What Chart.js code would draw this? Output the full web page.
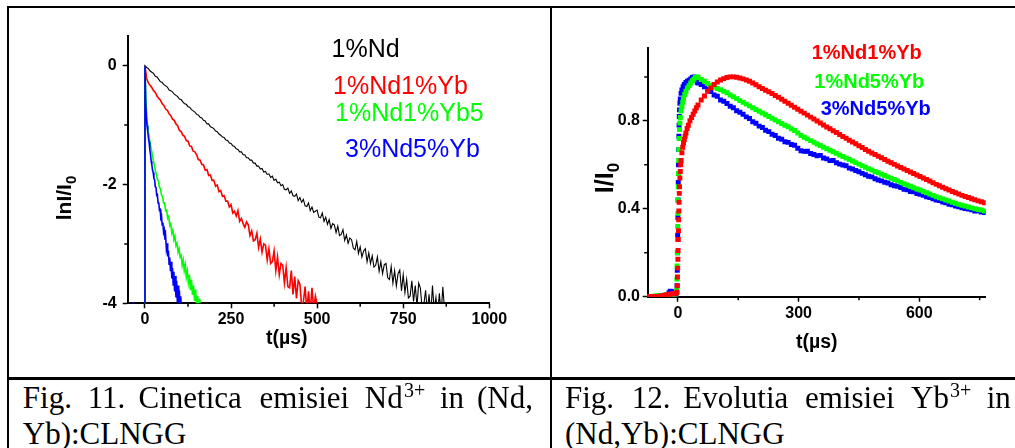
<!DOCTYPE html>
<html>
<head>
<meta charset="utf-8">
<script src="https://cdn.jsdelivr.net/npm/chart.js@4.4.1/dist/chart.umd.min.js"></script>
<style>
  html, body { margin: 0; padding: 0; background: #fff; }
  #page { position: relative; width: 1015px; height: 448px; overflow: hidden; background: #fff; }
  canvas { position: absolute; }
  .rule { position: absolute; background: #000; }
  .t { position: absolute; white-space: nowrap; line-height: 1; }
  .sans { font-family: 'Liberation Sans', Arial, sans-serif; }
  .cap { font-family: 'Liberation Serif', 'Times New Roman', serif; font-size: 31px; color: #000; }
  .sup { font-family: 'Liberation Serif', 'Times New Roman', serif; font-size: 20px; color: #000; }
  .ytitle { position: absolute; transform: rotate(-90deg); transform-origin: center center;
            font-family: 'Liberation Sans', Arial, sans-serif; font-weight: bold;
            white-space: nowrap; text-align: center; color: #000; }
</style>
</head>
<body>
<div id="page">
  <canvas id="ndDecay" width="549" height="376" style="left:0;top:0"></canvas>
  <canvas id="ybRise" width="464" height="376" style="left:551px;top:0"></canvas>

  <!-- table rules -->
  <div class="rule" style="left:6.5px;top:5.5px;width:1010px;height:2.5px"></div>
  <div class="rule" style="left:6.5px;top:5.5px;width:2.5px;height:445px"></div>
  <div class="rule" style="left:549.5px;top:5.5px;width:2.5px;height:445px"></div>
  <div class="rule" style="left:6.5px;top:377px;width:1010px;height:2.5px"></div>

  <!-- Fig. 11 series names -->
  <div class="t sans" style="left:331.5px;top:36px;font-size:25px;color:#000">1%Nd</div>
  <div class="t sans" style="left:333px;top:72.8px;font-size:25px;color:#ff0000">1%Nd1%Yb</div>
  <div class="t sans" style="left:335px;top:99.5px;font-size:25px;color:#00ff00">1%Nd1%Yb5</div>
  <div class="t sans" style="left:345px;top:136px;font-size:25px;color:#0000ff">3%Nd5%Yb</div>

  <!-- Fig. 12 series names -->
  <div class="t sans" style="left:811.7px;top:41.9px;font-size:20px;font-weight:bold;color:#ff0000">1%Nd1%Yb</div>
  <div class="t sans" style="left:814.3px;top:71.2px;font-size:20px;font-weight:bold;color:#00ff00">1%Nd5%Yb</div>
  <div class="t sans" style="left:820.7px;top:97.5px;font-size:20px;font-weight:bold;color:#0000ff">3%Nd5%Yb</div>

  <!-- axis titles -->
  <div class="t sans" style="left:266px;top:328px;font-size:19.5px;font-weight:bold">t(&micro;s)</div>
  <div class="t sans" style="left:796px;top:332px;font-size:19.5px;font-weight:bold">t(&micro;s)</div>
  <div class="ytitle" style="left:32px;top:184.5px;width:64px;height:26px;line-height:26px;font-size:21px">lnI/I<span style="font-size:15px;position:relative;top:5px">0</span></div>
  <div class="ytitle" style="left:574px;top:163.3px;width:60px;height:30px;line-height:30px;font-size:25px">I/I<span style="font-size:17px;position:relative;top:6px">0</span></div>

  <!-- captions -->
  <span class="t cap" style="left:22.8px;top:382px">Fig.</span>
  <span class="t cap" style="left:87.7px;top:382px">11.</span>
  <span class="t cap" style="left:138.5px;top:382px">Cinetica</span>
  <span class="t cap" style="left:259.6px;top:382px">emisiei</span>
  <span class="t cap" style="left:364.8px;top:382px">Nd</span>
  <span class="t sup" style="left:404px;top:380px">3+</span>
  <span class="t cap" style="left:440px;top:382px">in</span>
  <span class="t cap" style="left:477px;top:382px">(Nd,</span>
  <span class="t cap" style="left:22.8px;top:418px">Yb):CLNGG</span>

  <span class="t cap" style="left:565px;top:382px">Fig.</span>
  <span class="t cap" style="left:631.7px;top:382px">12.</span>
  <span class="t cap" style="left:683.3px;top:382px">Evolutia</span>
  <span class="t cap" style="left:805px;top:382px">emisiei</span>
  <span class="t cap" style="left:911px;top:382px">Yb</span>
  <span class="t sup" style="left:950px;top:380px">3+</span>
  <span class="t cap" style="left:986.7px;top:382px">in</span>
  <span class="t cap" style="left:565px;top:418px">(Nd,Yb):CLNGG</span>
</div>

<script>
// ---------- Fig. 11: ln(I/I0) decay of the Nd3+ emission ----------
// Each trace is sampled on a regular time grid starting at the pulse (t = 0).
const ndTimeStart = 0;
const nd1Step = 5;        // µs, 1%Nd
const nd1Yb1Step = 5;     // µs, 1%Nd1%Yb
const nd1Yb5Step = 3;     // µs, 1%Nd1%Yb5
const nd3Yb5Step = 2;     // µs, 3%Nd5%Yb
const prePulseLevel = -4.6; // signal below the plotted floor before the pulse

const nd1Values = [
  0, -0.03, -0.05, -0.09, -0.11, -0.13, -0.18, -0.19, -0.23, -0.27,
  -0.28, -0.32, -0.34, -0.36, -0.41, -0.42, -0.44, -0.48, -0.50, -0.52,
  -0.56, -0.57, -0.61, -0.64, -0.65, -0.69, -0.70, -0.74, -0.76, -0.78,
  -0.82, -0.83, -0.87, -0.88, -0.92, -0.93, -0.98, -0.98, -1.03, -1.04,
  -1.06, -1.10, -1.11, -1.15, -1.17, -1.20, -1.21, -1.25, -1.26, -1.30,
  -1.31, -1.35, -1.36, -1.40, -1.41, -1.45, -1.45, -1.50, -1.50, -1.55,
  -1.55, -1.59, -1.59, -1.64, -1.64, -1.69, -1.69, -1.74, -1.73, -1.79,
  -1.78, -1.83, -1.82, -1.88, -1.86, -1.93, -1.91, -1.97, -1.96, -2.02,
  -2.00, -2.08, -2.09, -2.06, -2.15, -2.11, -2.19, -2.20, -2.16, -2.27,
  -2.22, -2.30, -2.25, -2.36, -2.37, -2.31, -2.44, -2.38, -2.47, -2.45,
  -2.43, -2.55, -2.56, -2.48, -2.62, -2.55, -2.67, -2.59, -2.74, -2.66,
  -2.68, -2.81, -2.70, -2.86, -2.84, -2.76, -2.94, -2.85, -2.99, -2.90,
  -2.93, -3.07, -3.10, -2.96, -3.16, -3.05, -3.22, -3.12, -3.08, -3.30,
  -3.15, -3.33, -3.20, -3.39, -3.36, -3.22, -3.46, -3.30, -3.50, -3.35,
  -3.33, -3.57, -3.60, -3.38, -3.66, -3.45, -3.71, -3.50, -3.44, -3.79,
  -3.52, -3.82, -3.60, -3.91, -3.88, -3.62, -3.97, -3.70, -4.05, -3.66,
  -3.75, -4.10, -4.02, -3.78, -4.15, -3.85, -4.20, -3.70, -4.12, -3.90,
  -4.18, -3.83, -4.20, -3.72, -4.10
];
const nd1Yb1Values = [
  0, -0.22, -0.29, -0.33, -0.37, -0.42, -0.45, -0.51, -0.55, -0.58,
  -0.64, -0.67, -0.73, -0.75, -0.81, -0.84, -0.90, -0.92, -0.98, -1.01,
  -1.09, -1.11, -1.17, -1.19, -1.26, -1.27, -1.35, -1.36, -1.44, -1.45,
  -1.50, -1.58, -1.59, -1.66, -1.67, -1.76, -1.75, -1.85, -1.84, -1.93,
  -1.93, -2.03, -2.01, -2.12, -2.10, -2.20, -2.19, -2.28, -2.28, -2.38,
  -2.34, -2.48, -2.45, -2.53, -2.44, -2.62, -2.57, -2.66, -2.72, -2.63,
  -2.68, -2.86, -2.78, -2.95, -2.93, -2.82, -3.06, -2.92, -3.14, -3.00,
  -3.02, -3.27, -3.08, -3.33, -3.30, -3.12, -3.45, -3.22, -3.52, -3.33,
  -3.36, -3.66, -3.40, -3.72, -3.74, -3.45, -3.85, -3.55, -3.92, -3.62,
  -3.68, -4.05, -3.98, -3.72, -4.12, -3.80, -4.15, -3.74, -4.10, -3.88, -4.02
];
const nd1Yb5Values = [
  0, -0.60, -0.92, -1.07, -1.21, -1.29, -1.40, -1.48, -1.59, -1.66,
  -1.77, -1.82, -1.91, -1.94, -2.05, -2.07, -2.18, -2.20, -2.31, -2.31,
  -2.44, -2.43, -2.57, -2.54, -2.69, -2.66, -2.82, -2.77, -2.93, -2.87,
  -3.03, -2.99, -3.14, -3.08, -3.22, -3.19, -3.36, -3.27, -3.45, -3.35,
  -3.56, -3.46, -3.65, -3.52, -3.78, -3.60, -3.86, -3.70, -3.96, -3.77,
  -4.05, -3.88, -4.12, -3.92, -4.18, -4.05
];
const nd3Yb5Values = [
  0, -0.60, -0.88, -1.01, -1.10, -1.21, -1.29, -1.41, -1.49, -1.61,
  -1.67, -1.76, -1.80, -1.90, -1.92, -2.04, -2.05, -2.18, -2.17, -2.31,
  -2.30, -2.43, -2.42, -2.56, -2.53, -2.68, -2.64, -2.80, -2.76, -2.93,
  -2.87, -3.07, -2.99, -3.21, -3.11, -3.34, -3.23, -3.46, -3.30, -3.58,
  -3.40, -3.69, -3.47, -3.80, -3.54, -3.90, -3.62, -3.98, -3.70, -4.05,
  -3.78, -4.10, -3.88, -4.15, -4.05
];
const nd3Yb5StrayT = [-34];
const nd3Yb5StrayV = [-4];

const ndXTicks = [0, 250, 500, 750, 1000];
const ndXMinor = [125, 375, 625, 875];
const ndYTicks = [0, -2, -4];
const ndYMinor = [-1, -3];

// ---------- Fig. 12: normalised Yb3+ emission I/I0 ----------
// Rise section (irregular sampling around the pulse) followed by the decay
// section on a regular grid.
const ybDecayStart = 50;
const ybDecayStep = 8;

const yb11RiseT = [-75,-70,-65,-60,-55,-50,-45,-40,-35,-30,-25,-20,-15,-10,-5,-2,-1.5,-1,-0.5,0,0.5,1,1.5,2,2.5,3,3.5,4,5,6,7,8,10,12,14,16,18,20,23,26,30,34,38,42,46];
const yb11RiseV = [0,0,0,0,0,0.001,0.002,0.004,0.006,0.008,0.01,0.011,0.012,0.013,0.014,0.02,0.05,0.09,0.13,0.17,0.21,0.26,0.30,0.35,0.39,0.43,0.47,0.50,0.54,0.57,0.60,0.62,0.655,0.68,0.70,0.715,0.73,0.745,0.765,0.78,0.80,0.815,0.83,0.845,0.86];
const yb11DecayV = [
  0.872,0.895,0.913,0.935,0.950,0.965,0.977,0.986,0.992,0.997,
  1.000,1.000,0.998,0.995,0.991,0.986,0.980,0.972,0.964,0.955,
  0.947,0.939,0.932,0.924,0.915,0.907,0.898,0.889,0.880,0.871,
  0.862,0.853,0.844,0.835,0.826,0.817,0.808,0.799,0.790,0.781,
  0.772,0.764,0.755,0.747,0.738,0.729,0.721,0.712,0.704,0.696,
  0.687,0.679,0.670,0.662,0.654,0.647,0.639,0.632,0.624,0.616,
  0.609,0.602,0.595,0.588,0.581,0.574,0.567,0.560,0.554,0.547,
  0.540,0.533,0.526,0.518,0.511,0.505,0.498,0.491,0.485,0.479,
  0.473,0.467,0.461,0.456,0.451,0.446,0.441,0.436,0.432,0.427
];

const yb15RiseT = [-75,-70,-65,-60,-55,-50,-45,-40,-35,-30,-25,-20,-15,-10,-5,-3,-2.5,-2,-1.5,-1,-0.5,0,0.5,1,1.5,2,2.5,3,4,5,6,8,10,12,14,17,20,24,28,32,36,40,44,48];
const yb15RiseV = [0,0,0.001,0.002,0.003,0.004,0.005,0.006,0.007,0.008,0.009,0.01,0.01,0.011,0.012,0.03,0.08,0.14,0.20,0.26,0.32,0.38,0.44,0.50,0.56,0.62,0.67,0.72,0.76,0.79,0.815,0.845,0.865,0.885,0.90,0.92,0.935,0.95,0.96,0.972,0.982,0.99,0.997,1.0];
const yb15DecayV = [
  0.998,0.988,0.980,0.970,0.961,0.954,0.947,0.941,0.934,0.928,
  0.918,0.910,0.901,0.892,0.884,0.876,0.868,0.860,0.852,0.844,
  0.836,0.828,0.820,0.812,0.804,0.796,0.788,0.780,0.773,0.764,
  0.756,0.745,0.733,0.725,0.718,0.710,0.703,0.695,0.688,0.680,
  0.673,0.666,0.659,0.652,0.645,0.638,0.631,0.624,0.617,0.610,
  0.603,0.596,0.589,0.582,0.576,0.570,0.564,0.557,0.551,0.545,
  0.539,0.533,0.527,0.520,0.514,0.508,0.502,0.496,0.490,0.485,
  0.479,0.473,0.467,0.461,0.455,0.450,0.445,0.440,0.435,0.430,
  0.425,0.420,0.416,0.412,0.408,0.404,0.400,0.397,0.394,0.390
];

const yb35RiseT = [-75,-70,-65,-60,-55,-50,-45,-40,-35,-30,-25,-22,-19,-16,-13,-10,-5,-2,-1.5,-1,-0.5,0,0.5,1,1.5,2,2.5,3,3.5,4,5,6,8,10,13,16,20,24,28,32,36,40,44,48];
const yb35RiseV = [0,0,0,0,0,0,0,0,0.002,0.004,0.01,0.018,0.025,0.024,0.018,0.01,0.008,0.05,0.12,0.20,0.28,0.36,0.44,0.52,0.60,0.67,0.73,0.78,0.82,0.85,0.88,0.90,0.925,0.94,0.955,0.965,0.975,0.98,0.985,0.99,0.997,1.0,0.99,0.975];
const yb35DecayV = [
  0.972,0.965,0.955,0.944,0.933,0.918,0.912,0.895,0.889,0.879,
  0.866,0.860,0.846,0.839,0.830,0.818,0.811,0.796,0.789,0.776,
  0.770,0.757,0.751,0.739,0.733,0.721,0.716,0.705,0.702,0.692,
  0.689,0.675,0.664,0.661,0.662,0.651,0.647,0.641,0.643,0.631,
  0.627,0.619,0.620,0.609,0.603,0.599,0.596,0.585,0.581,0.574,
  0.568,0.561,0.555,0.548,0.545,0.537,0.531,0.527,0.521,0.517,
  0.509,0.505,0.502,0.497,0.489,0.486,0.479,0.477,0.469,0.466,
  0.461,0.455,0.451,0.445,0.440,0.437,0.431,0.427,0.420,0.418,
  0.413,0.409,0.405,0.401,0.399,0.395,0.390,0.391,0.385,0.383
];

const ybXTicks = [0, 300, 600];
const ybXMinor = [150, 450, 750];
const ybYTicks = [0, 0.4, 0.8];
const ybYMinor = [0.2, 0.6, 1.0];

// ---------- helpers ----------
function gridSeries(start, step, values) {
  return values.map((v, i) => ({ x: start + i * step, y: v }));
}
function ndTrace(step, values) {
  return [{ x: ndTimeStart, y: prePulseLevel }].concat(gridSeries(ndTimeStart, step, values));
}
function ybTrace(riseT, riseV, decayV) {
  return riseT.map((t, i) => ({ x: t, y: riseV[i] }))
    .concat(gridSeries(ybDecayStart, ybDecayStep, decayV));
}

const TICK_FONT = { family: "'Liberation Sans', Arial, sans-serif", size: 16, weight: 'bold' };

function axis(o) {
  return {
    type: 'linear',
    position: o.position,
    min: o.min,
    max: o.max,
    afterBuildTicks: s => { s.ticks = o.ticks.map(v => ({ value: v })); },
    afterFit: s => { if (o.position === 'left') s.width = o.size; else s.height = o.size; },
    ticks: {
      font: TICK_FONT, color: '#000', padding: o.pad,
      autoSkip: false, maxRotation: 0, minRotation: 0,
      callback: v => o.fmt(v)
    },
    grid: { display: true, drawOnChartArea: false, drawTicks: true,
            tickLength: 5, tickWidth: 1.5, tickColor: '#000' },
    border: { display: true, color: '#000', width: 2 }
  };
}

// short outward minor tick marks between the labelled ticks
const minorTicks = {
  id: 'minorTicks',
  afterDraw(chart, args, opts) {
    const { ctx, scales: { x, y } } = chart;
    ctx.save();
    ctx.strokeStyle = '#000';
    ctx.lineWidth = 1.5;
    ctx.beginPath();
    opts.x.forEach(v => {
      const px = x.getPixelForValue(v);
      ctx.moveTo(px, y.bottom); ctx.lineTo(px, y.bottom + 3.5);
    });
    opts.y.forEach(v => {
      const py = y.getPixelForValue(v);
      ctx.moveTo(x.left, py); ctx.lineTo(x.left - 3.5, py);
    });
    ctx.stroke();
    ctx.restore();
  }
};

const common = {
  responsive: false,
  animation: false,
  devicePixelRatio: 1,
  events: [],
  elements: { line: { tension: 0 }, point: { hoverRadius: 0 } }
};

// ---------- Fig. 11 chart ----------
new Chart(document.getElementById('ndDecay'), {
  type: 'line',
  data: {
    datasets: [
      { label: '3%Nd5%Yb', data: ndTrace(nd3Yb5Step, nd3Yb5Values), borderColor: '#0000ff', borderWidth: 1.6, pointRadius: 0 },
      { label: '3%Nd5%Yb', data: nd3Yb5StrayT.map((t, i) => ({ x: t, y: nd3Yb5StrayV[i] })), showLine: false,
        pointRadius: 1.3, pointBorderWidth: 0, pointBackgroundColor: '#0000ff' },
      { label: '1%Nd1%Yb5', data: ndTrace(nd1Yb5Step, nd1Yb5Values), borderColor: '#00ff00', borderWidth: 1.6, pointRadius: 0 },
      { label: '1%Nd1%Yb', data: ndTrace(nd1Yb1Step, nd1Yb1Values), borderColor: '#ff0000', borderWidth: 1.6, pointRadius: 0 },
      { label: '1%Nd', data: ndTrace(nd1Step, nd1Values), borderColor: '#000000', borderWidth: 1.1, pointRadius: 0 }
    ]
  },
  options: Object.assign({}, common, {
    layout: { padding: { left: 0, top: 36, right: 59.7, bottom: 0 } },
    scales: {
      x: axis({ position: 'bottom', min: -50, max: 1000, ticks: ndXTicks, size: 72.7, pad: 1.2, fmt: v => String(v) }),
      y: axis({ position: 'left', min: -4, max: 0.5, ticks: ndYTicks, size: 127.75, pad: 6, fmt: v => String(v) })
    },
    plugins: { legend: { display: false }, tooltip: { enabled: false },
               minorTicks: { x: ndXMinor, y: ndYMinor } }
  }),
  plugins: [minorTicks]
});

// ---------- Fig. 12 chart ----------
const ybPoint = c => ({ showLine: false, pointStyle: 'rect', pointRadius: 3.5, pointBorderWidth: 0,
                        pointBackgroundColor: c, borderColor: c, backgroundColor: c });
new Chart(document.getElementById('ybRise'), {
  type: 'line',
  data: {
    datasets: [
      Object.assign({ label: '1%Nd1%Yb', data: ybTrace(yb11RiseT, yb11RiseV, yb11DecayV) }, ybPoint('#ff0000')),
      Object.assign({ label: '1%Nd5%Yb', data: ybTrace(yb15RiseT, yb15RiseV, yb15DecayV) }, ybPoint('#00ff00')),
      Object.assign({ label: '3%Nd5%Yb', data: ybTrace(yb35RiseT, yb35RiseV, yb35DecayV) }, ybPoint('#0000ff'))
    ]
  },
  options: Object.assign({}, common, {
    layout: { padding: { left: 0, top: 48.3, right: 29.3, bottom: 0 } },
    scales: {
      x: axis({ position: 'bottom', min: -75, max: 765, ticks: ybXTicks, size: 79.3, pad: 1.8, fmt: v => String(v) }),
      y: axis({ position: 'left', min: 0, max: 1.13, ticks: ybYTicks, size: 96.7, pad: 2.7, fmt: v => v.toFixed(1) })
    },
    plugins: { legend: { display: false }, tooltip: { enabled: false },
               minorTicks: { x: ybXMinor, y: ybYMinor } }
  }),
  plugins: [minorTicks]
});
</script>
</body>
</html>
